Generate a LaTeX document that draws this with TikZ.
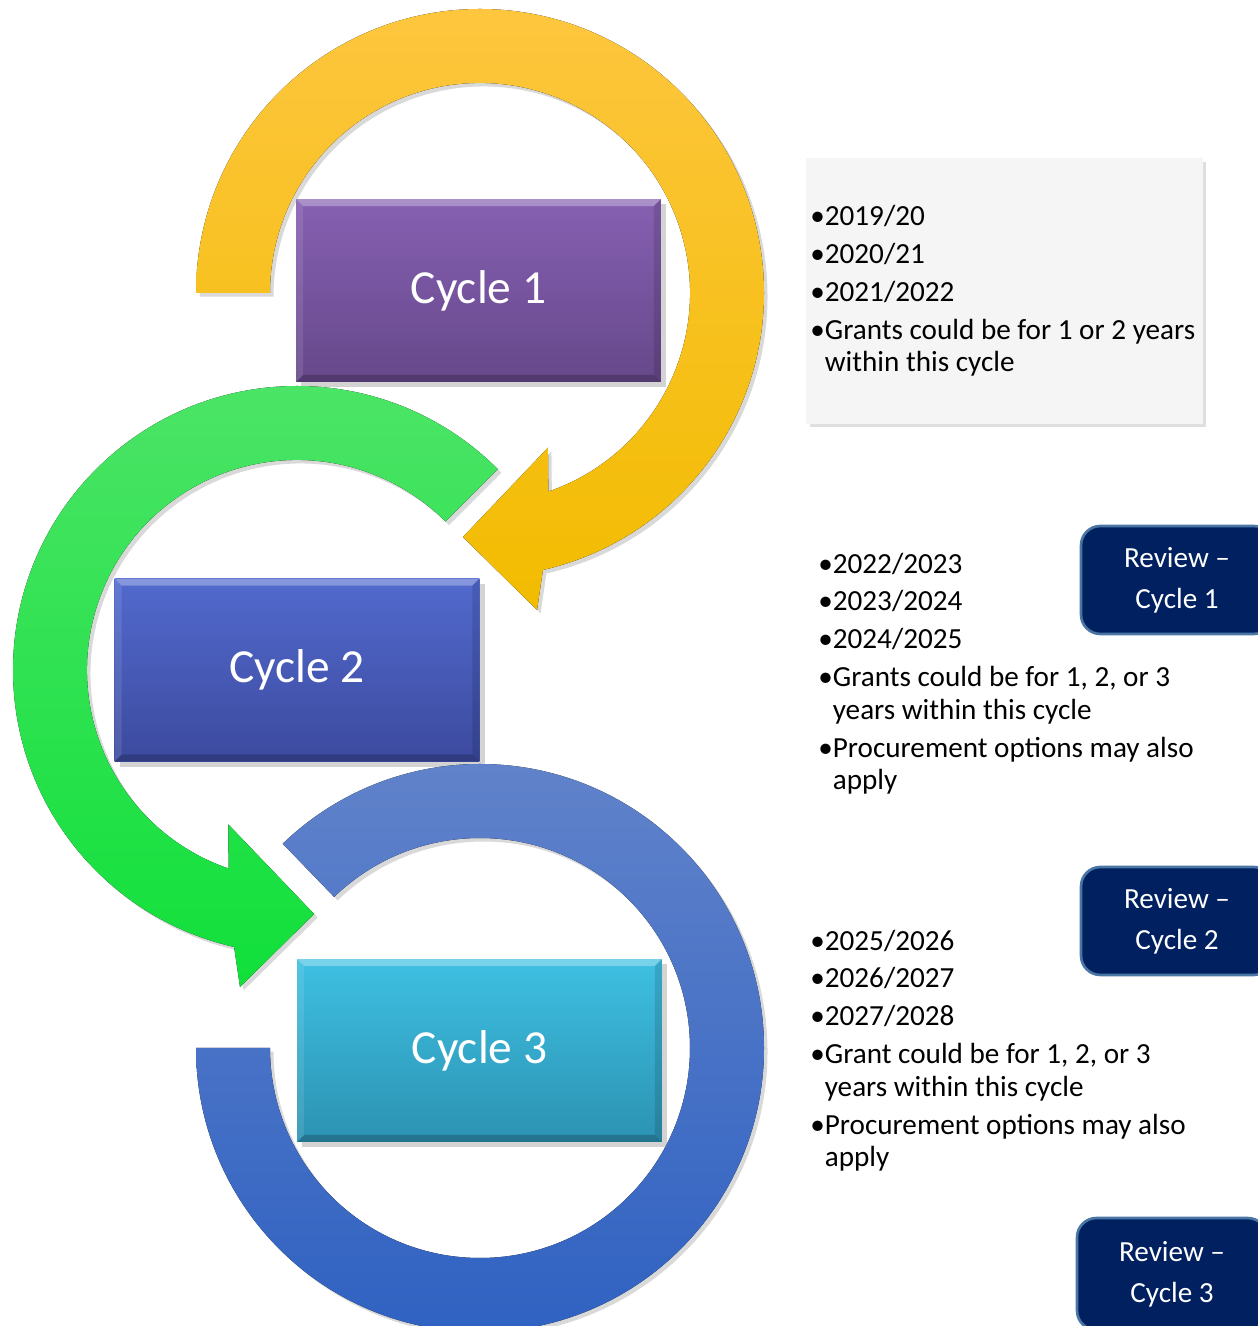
\documentclass[tikz,border=0pt]{standalone}
\usepackage{fontspec}
\setmainfont{Carlito}
\usetikzlibrary{shadows}
\definecolor{yelTop}{RGB}{253,198,62}
\definecolor{yelBot}{RGB}{242,188,0}
\definecolor{grnTop}{RGB}{78,228,104}
\definecolor{grnBot}{RGB}{16,224,58}
\definecolor{bluTop}{RGB}{96,130,202}
\definecolor{bluBot}{RGB}{48,98,194}
\definecolor{purTop}{RGB}{134,96,178}
\definecolor{purBot}{RGB}{102,72,138}
\definecolor{indTop}{RGB}{82,106,206}
\definecolor{indBot}{RGB}{60,74,158}
\definecolor{cynTop}{RGB}{62,192,226}
\definecolor{cynBot}{RGB}{44,146,178}
\definecolor{revFill}{RGB}{0,32,96}
\definecolor{revEdge}{RGB}{74,118,166}

\begin{document}
\begin{tikzpicture}[x=0.02cm,y=0.02cm,
ring/.style={drop shadow={opacity=0.3,shadow xshift=2pt,shadow yshift=-2pt}},
yellowring/.style={ring,top color=yelTop,bottom color=yelBot},
greenring/.style={ring,top color=grnTop,bottom color=grnBot},
bluering/.style={ring,top color=bluTop,bottom color=bluBot},
cyclebox/.style={minimum width=7.3cm,minimum height=3.66cm,text=white,font=\fontsize{27}{32}\selectfont,
  drop shadow={opacity=0.35,shadow xshift=3pt,shadow yshift=-3pt},
  path picture={
    \fill[white,opacity=0.3] (path picture bounding box.north west) -- (path picture bounding box.north east) -- ([shift={(-4pt,-4pt)}]path picture bounding box.north east) -- ([shift={(4pt,-4pt)}]path picture bounding box.north west) -- cycle;
    \fill[black,opacity=0.2] (path picture bounding box.south west) -- (path picture bounding box.south east) -- ([shift={(-4pt,4pt)}]path picture bounding box.south east) -- ([shift={(4pt,4pt)}]path picture bounding box.south west) -- cycle;
    \fill[black,opacity=0.12] (path picture bounding box.north east) -- (path picture bounding box.south east) -- ([shift={(-4pt,4pt)}]path picture bounding box.south east) -- ([shift={(-4pt,-4pt)}]path picture bounding box.north east) -- cycle;
    \fill[white,opacity=0.1] (path picture bounding box.north west) -- (path picture bounding box.south west) -- ([shift={(4pt,4pt)}]path picture bounding box.south west) -- ([shift={(4pt,-4pt)}]path picture bounding box.north west) -- cycle;}},
panel/.style={fill=black!4,minimum width=7.94cm,minimum height=5.32cm,drop shadow={opacity=0.25,shadow xshift=2pt,shadow yshift=-2pt}},
notes/.style={anchor=base west,align=left,inner sep=0pt,font=\fontsize{16.6}{18.7}\selectfont},
review/.style={draw=revEdge,line width=1.5pt,fill=revFill,rounded corners=11pt,text=white,align=center,minimum width=3.84cm,minimum height=2.16cm,font=\fontsize{16.6}{23.2}\selectfont}]
\useasboundingbox (0,0) rectangle (1258,1326);
\coordinate (c1) at (480,1033); \coordinate (c2) at (297,656); \coordinate (c3) at (480,278);
% circular arrows and cycle boxes
\fill[yellowring,shift={(c1)}] (180:210) -- (180:284) arc[start angle=180,end angle=-77.2,radius=284] -- (-79.8:322) -- (-94:244.6) -- (-66.3:169) -- (-71:210) arc[start angle=-71,end angle=180,radius=210] -- cycle;
\node[cyclebox,top color=purTop,bottom color=purBot] (cycle1) at (478.5,1035.5) {Cycle 1};
\fill[greenring,shift={(c2)}] (45:210) -- (45:284) arc[start angle=45,end angle=257.2,radius=284] -- (259.8:322) -- (274:244.6) -- (246:169) -- (251:210) arc[start angle=251,end angle=45,radius=210] -- cycle;
\node[cyclebox,top color=indTop,bottom color=indBot] (cycle2) at (297,656) {Cycle 2};
\fill[bluering,shift={(c3)}] (180:210) -- (180:284) arc[start angle=180,end angle=494,radius=284] -- (494:210) arc[start angle=494,end angle=180,radius=210] -- cycle;
\node[cyclebox,top color=cynTop,bottom color=cynBot] (cycle3) at (479.5,275.5) {Cycle 3};
% notes
\node[panel] (grants1) at (1004.5,1035) {};
\node[notes] (years1) at (810,954) {•2019/20\\[2.8pt] •2020/21\\[2.8pt] •2021/2022\\[2.8pt] •Grants could be for 1 or 2 years\\ \hphantom{•}within this cycle};
\node[notes] (years2) at (818,536) {•2022/2023\\[2.8pt] •2023/2024\\[2.8pt] •2024/2025\\[2.8pt] •Grants could be for 1, 2, or 3\\ \hphantom{•}years within this cycle\\[2.8pt] •Procurement options may also\\ \hphantom{•}apply};
\node[notes] (years3) at (810,159) {•2025/2026\\[2.8pt] •2026/2027\\[2.8pt] •2027/2028\\[2.8pt] •Grant could be for 1, 2, or 3\\ \hphantom{•}years within this cycle\\[2.8pt] •Procurement options may also\\ \hphantom{•}apply};
% reviews
\node[review] (review1) at (1177,746) {Review –\\Cycle 1};
\node[review] (review2) at (1177,405) {Review –\\Cycle 2};
\node[review,minimum width=3.8cm,minimum height=2.24cm] (review3) at (1172,52) {Review –\\Cycle 3};
\end{tikzpicture}
\end{document}
